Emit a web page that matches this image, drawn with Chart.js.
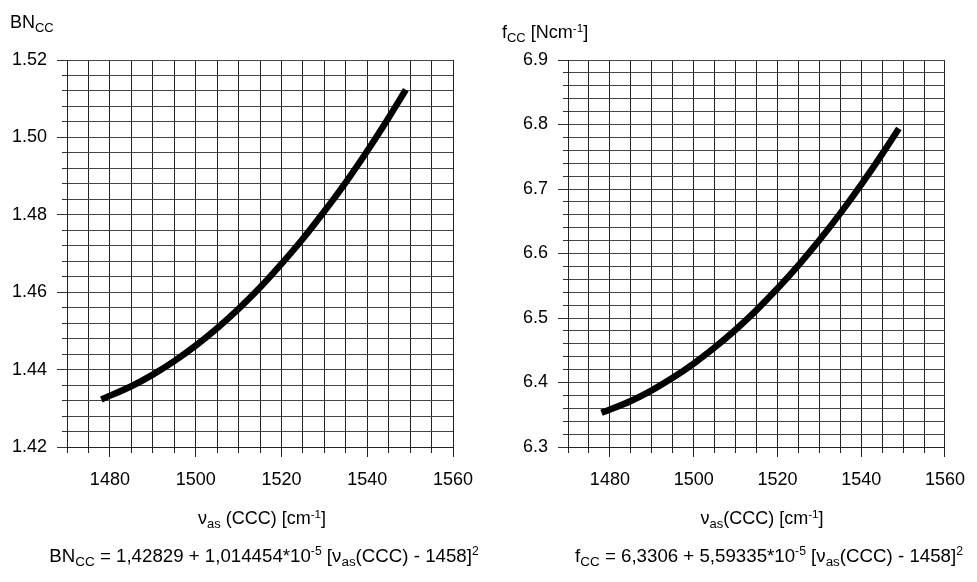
<!DOCTYPE html>
<html>
<head>
<meta charset="utf-8">
<script src="https://cdn.jsdelivr.net/npm/chart.js@4.4.1/dist/chart.umd.min.js"></script>
<style>
  body { margin: 0; background: #fff; width: 977px; height: 582px; position: relative; overflow: hidden;
         font-family: "Liberation Sans", Arial, sans-serif; color: #000; }
  canvas { position: absolute; top: 0; }
  #leftChart { left: 0; }
  #rightChart { left: 488px; }
  .txt { position: absolute; font-size: 18px; line-height: 18px; white-space: nowrap; }
  .eq { font-size: 18.7px; }
  .mid { transform: translateX(-50%); }
  .sb { font-size: 0.72em; position: relative; top: 0.3em; }
  .sp { font-size: 0.65em; position: relative; top: -0.55em; }
</style>
</head>
<body>
<canvas id="leftChart" width="488" height="582"></canvas>
<canvas id="rightChart" width="489" height="582"></canvas>

<div class="txt" style="left:10px; top:13px;">BN<span class="sb">CC</span></div>
<div class="txt" style="left:502px; top:23px;">f<span class="sb">CC</span> [Ncm<span class="sp">-1</span>]</div>

<div class="txt mid" style="left:262px; top:509px;">ν<span class="sb">as</span> (CCC) [cm<span class="sp">-1</span>]</div>
<div class="txt mid" style="left:762px; top:509px;">ν<span class="sb">as</span>(CCC) [cm<span class="sp">-1</span>]</div>

<div class="txt mid eq" style="left:264px; top:547px;">BN<span class="sb">CC</span> = 1,42829 + 1,014454*10<span class="sp">-5</span> [ν<span class="sb">as</span>(CCC) - 1458]<span class="sp">2</span></div>
<div class="txt mid eq" style="left:769px; top:547px;">f<span class="sb">CC</span> = 6,3306 + 5,59335*10<span class="sp">-5</span> [ν<span class="sb">as</span>(CCC) - 1458]<span class="sp">2</span></div>

<script>
// wavenumbers (cm-1)
const waveNumbers = [1478, 1485, 1490, 1495, 1500, 1505, 1510, 1515, 1520, 1525, 1530, 1535, 1540, 1545, 1549];
// bond number BN_CC
const bondNumbers = [1.4323, 1.4357, 1.4387, 1.4422, 1.4462, 1.4507, 1.4557, 1.4612, 1.4673, 1.4738, 1.4809, 1.4884, 1.4965, 1.5051, 1.5123];
// force constant f_CC (N/cm)
const forceConstants = [6.3530, 6.3714, 6.3879, 6.4072, 6.4293, 6.4542, 6.4818, 6.5123, 6.5456, 6.5817, 6.6206, 6.6622, 6.7067, 6.7540, 6.7938];

const xTickLabels = [1480, 1500, 1520, 1540, 1560];
const bnTickLabels = [1.42, 1.44, 1.46, 1.48, 1.50, 1.52];
const fTickLabels = [6.3, 6.4, 6.5, 6.6, 6.7, 6.8, 6.9];

Chart.defaults.font.family = '"Liberation Sans", Arial, sans-serif';
Chart.defaults.font.size = 18;
Chart.defaults.color = '#000';

const isIn = (list, v) => list.some(l => Math.abs(l - v) < 1e-9);

function makeChart(id, yValues, yMin, yMax, yStep, yLabels, digits, yWidth, rightPad) {
    const ctx = document.getElementById(id).getContext('2d');
    return new Chart(ctx, {
        type: 'scatter',
        data: {
            datasets: [{
                data: waveNumbers.map((x, i) => ({ x: x, y: yValues[i] })),
                showLine: true,
                borderColor: '#000',
                borderWidth: 6.5,
                pointRadius: 0,
                cubicInterpolationMode: 'monotone',
                fill: false
            }]
        },
        options: {
            responsive: false,
            animation: false,
            layout: { padding: { left: 0, top: 60, right: rightPad, bottom: 95 } },
            plugins: { legend: { display: false }, tooltip: { enabled: false } },
            scales: {
                x: {
                    type: 'linear',
                    min: 1470,
                    max: 1560,
                    afterFit: s => { s.height = 40; },
                    border: { display: true, color: '#222', width: 1 },
                    grid: {
                        color: '#222',
                        lineWidth: 1,
                        tickLength: 10,
                        tickColor: '#222',
                        tickBorderDash: c => (c.tick && isIn(xTickLabels, c.tick.value)) ? [] : [5, 30]
                    },
                    ticks: {
                        stepSize: 5,
                        autoSkip: false,
                        maxRotation: 0,
                        padding: 12,
                        callback: v => isIn(xTickLabels, v) ? String(v) : ''
                    }
                },
                y: {
                    type: 'linear',
                    min: yMin,
                    max: yMax,
                    afterFit: s => { s.width = yWidth; },
                    border: { display: true, color: '#222', width: 1 },
                    grid: {
                        color: '#444',
                        lineWidth: 1,
                        tickLength: 10,
                        tickColor: '#333',
                        tickBorderDash: c => (c.tick && isIn(yLabels, c.tick.value)) ? [] : [0, 5, 5, 30]
                    },
                    ticks: {
                        stepSize: yStep,
                        autoSkip: false,
                        padding: 10,
                        callback: v => isIn(yLabels, v) ? v.toFixed(digits) : ''
                    }
                }
            }
        }
    });
}

makeChart('leftChart', bondNumbers, 1.42, 1.52, 0.004, bnTickLabels, 2, 67, 35);
makeChart('rightChart', forceConstants, 6.3, 6.9, 0.02, fTickLabels, 1, 80, 21);
</script>
</body>
</html>
